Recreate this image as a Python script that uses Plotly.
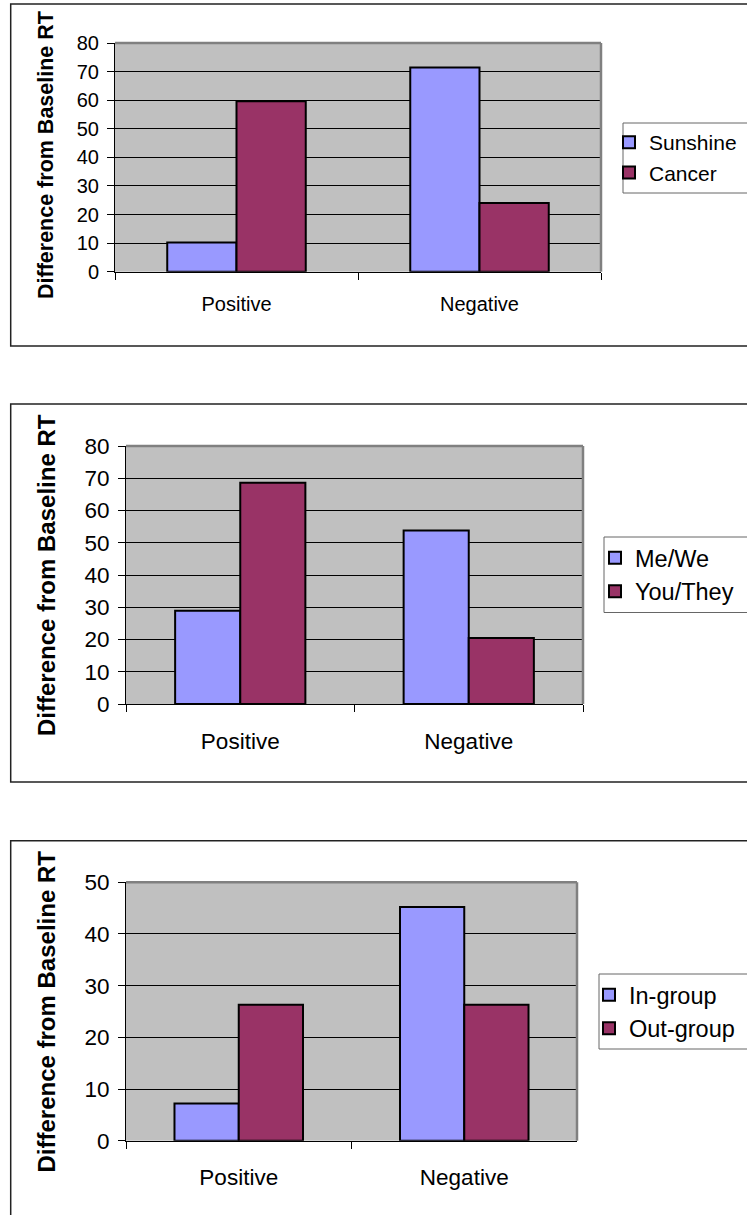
import plotly.graph_objects as go

W, H = 747, 1215
FONT = "Liberation Sans, Arial, sans-serif"

categories = ["Positive", "Negative"]

# Panel 1: word valence
p1_names = ["Sunshine", "Cancer"]
p1_sunshine = [10.2, 71.4]
p1_cancer = [59.6, 24.0]

# Panel 2: pronouns
p2_names = ["Me/We", "You/They"]
p2_mewe = [28.9, 53.8]
p2_youthey = [68.6, 20.5]

# Panel 3: group membership
p3_names = ["In-group", "Out-group"]
p3_in = [7.2, 45.2]
p3_out = [26.3, 26.3]

y_ranges = [80, 80, 50]
y_title = "Difference from Baseline RT"

BLUE = "#9999FF"
PLUM = "#993366"
GRID = "#000000"
FRAME = "#808080"


def px_x(v):
    return v / W


def px_y(v):
    return 1 - v / H


# plot-area boxes in pixels: left, right, top, bottom
plot_boxes = [
    (115, 601, 43, 271.7),
    (126, 583, 446, 704),
    (126, 577, 882.3, 1140.7),
]
# outer panel frames in pixels: left, top, bottom
panel_frames = [(10.7, 4, 346), (10.7, 404, 782), (10.7, 840.7, 1230)]
tick_sizes = [20, 22.5, 22.5]
title_sizes = [21.5, 24, 24]
title_centers = [155, 575, 1011.5]
legend_sizes = [21, 23.5, 23.5]
# legend frame (left, top, bottom) and where the entries start (x, y)
legend_frames = [(623, 123, 193), (604, 537, 612.5), (599, 974, 1049)]
legend_pos = [(609, 122), (595, 536), (589, 973)]
label_offsets = [14, 17, 16]

panels = [
    (p1_names, p1_sunshine, p1_cancer),
    (p2_names, p2_mewe, p2_youthey),
    (p3_names, p3_in, p3_out),
]

fig = go.Figure()
shapes = []
annotations = []
layout = {}

for i, (names, s1, s2) in enumerate(panels):
    n = i + 1
    xa = "x" if n == 1 else f"x{n}"
    ya = "y" if n == 1 else f"y{n}"
    lg = "legend" if n == 1 else f"legend{n}"
    for name, vals, color in ((names[0], s1, BLUE), (names[1], s2, PLUM)):
        fig.add_trace(go.Bar(
            x=categories, y=vals, name=name,
            marker=dict(color=color, line=dict(color="#000000", width=2)),
            xaxis=xa, yaxis=ya, legend=lg,
        ))

    left, right, top, bottom = plot_boxes[i]
    xkey = "xaxis" if n == 1 else f"xaxis{n}"
    ykey = "yaxis" if n == 1 else f"yaxis{n}"
    layout[xkey] = dict(
        domain=[px_x(left), px_x(right)],
        anchor=ya,
        type="category",
        tickson="boundaries",
        ticks="outside", ticklen=7, tickwidth=1, tickcolor="#000000",
        showline=True, linecolor="#000000", linewidth=1,
        showgrid=False, zeroline=False,
        tickfont=dict(family=FONT, size=tick_sizes[i], color="#000000"),
        ticklabelstandoff=label_offsets[i],
        fixedrange=True,
    )
    layout[ykey] = dict(
        domain=[px_y(bottom), px_y(top)],
        anchor=xa,
        range=[0, y_ranges[i]],
        dtick=10,
        ticks="outside", ticklen=7, tickwidth=1, tickcolor="#000000",
        showline=True, linecolor="#000000", linewidth=1,
        showgrid=True, gridcolor=GRID, gridwidth=1,
        zeroline=False,
        tickfont=dict(family=FONT, size=tick_sizes[i], color="#000000"),
        ticklabelstandoff=4,
        fixedrange=True,
    )

    # grey frame on the top and right of the plot area
    shapes.append(dict(type="line", xref=f"{xa} domain", yref=f"{ya} domain",
                       x0=0, x1=1, y0=1, y1=1,
                       line=dict(color=FRAME, width=2.5), layer="above"))
    shapes.append(dict(type="line", xref=f"{xa} domain", yref=f"{ya} domain",
                       x0=1, x1=1, y0=0, y1=1,
                       line=dict(color=FRAME, width=2.5), layer="above"))

    # outer chart border
    fl, ft, fb = panel_frames[i]
    shapes.append(dict(type="rect", xref="paper", yref="paper",
                       x0=px_x(fl), x1=px_x(760), y0=px_y(fb), y1=px_y(ft),
                       line=dict(color="#222222", width=1.5),
                       fillcolor="rgba(0,0,0,0)", layer="below"))

    # legend frame
    bl, bt, bb = legend_frames[i]
    shapes.append(dict(type="rect", xref="paper", yref="paper",
                       x0=px_x(bl), x1=px_x(760), y0=px_y(bb), y1=px_y(bt),
                       line=dict(color="#666666", width=1),
                       fillcolor="rgba(0,0,0,0)", layer="above"))

    # rotated value-axis title
    annotations.append(dict(
        text=f"<b>{y_title}</b>", textangle=-90,
        xref="paper", yref="paper",
        x=px_x(46), y=px_y(title_centers[i]),
        xanchor="center", yanchor="middle", showarrow=False,
        font=dict(family=FONT, size=title_sizes[i], color="#000000"),
    ))

    lx, ly = legend_pos[i]
    layout[lg] = dict(
        x=px_x(lx), y=px_y(ly), xanchor="left", yanchor="top",
        bgcolor="rgba(0,0,0,0)", borderwidth=0,
        font=dict(family=FONT, size=legend_sizes[i], color="#000000"),
        itemwidth=30, tracegroupgap=0,
    )

fig.update_layout(
    width=W, height=H,
    margin=dict(l=0, r=0, t=0, b=0, autoexpand=False),
    paper_bgcolor="#FFFFFF",
    plot_bgcolor="#C0C0C0",
    barmode="group",
    bargap=0.43,
    bargroupgap=0,
    shapes=shapes,
    annotations=annotations,
    **layout,
)

fig.write_html("out.html", config=dict(displayModeBar=False))
